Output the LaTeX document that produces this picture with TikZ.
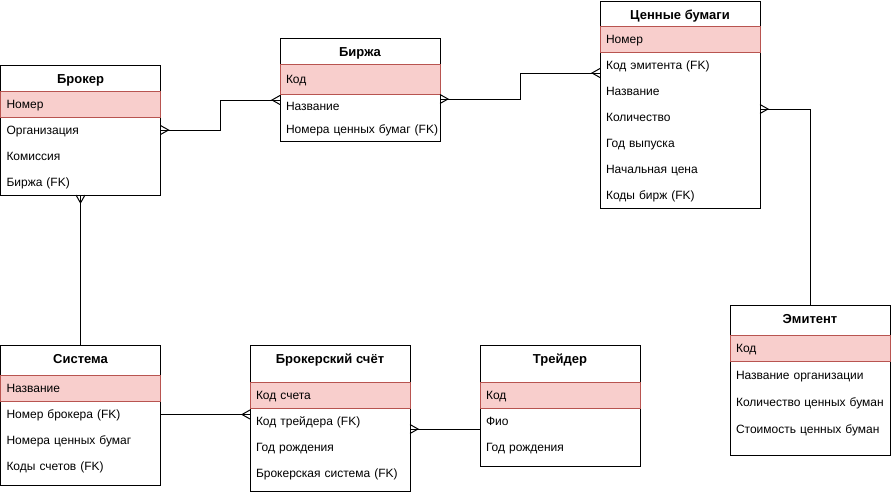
\documentclass[tikz,border=0pt]{standalone}
\usepackage{fontspec}
\setmainfont{Liberation Sans}
\usetikzlibrary{positioning,arrows.meta}

\definecolor{keyfill}{HTML}{F8CECC}
\definecolor{keyline}{HTML}{B85450}

% crow's foot end for the relations
\pgfdeclarearrow{
  name = Crow,
  parameters = {\the\pgfarrowlength,\the\pgfarrowwidth},
  setup code = {
    \pgfarrowssettipend{0pt}
    \pgfarrowssetlineend{0pt}
    \pgfarrowssetbackend{-\pgfarrowlength}
    \pgfarrowssavethe\pgfarrowlength
    \pgfarrowssavethe\pgfarrowwidth
  },
  drawing code = {
    \pgfpathmoveto{\pgfqpoint{0pt}{.5\pgfarrowwidth}}
    \pgfpathlineto{\pgfqpoint{-\pgfarrowlength}{0pt}}
    \pgfpathlineto{\pgfqpoint{0pt}{-.5\pgfarrowwidth}}
    \pgfusepathqstroke
  },
  defaults = {length = 8pt, width = 9pt}
}

\begin{document}
\begin{tikzpicture}[x=1pt, y=-1pt, node distance=0pt, line width=1pt,
    font=\fontsize{12}{14}\selectfont,
    every node/.style={outer sep=0pt},
    table/.style={draw, minimum width=160pt, anchor=north west, inner sep=0pt},
    head/.style={minimum width=160pt, minimum height=28pt, anchor=north, inner sep=0pt,
        text height=10pt, text depth=1.5pt, font=\fontsize{13}{15}\selectfont\bfseries},
    field/.style={minimum width=160pt, minimum height=26pt, text width=148pt,
        text height=10pt, text depth=1.5pt,
        inner sep=0pt, inner xsep=6pt, align=left, anchor=north},
    key/.style={field, draw=keyline, fill=keyfill, anchor=north west},
    rel/.style={draw=black, line width=1pt}]
    \useasboundingbox (0,0) rectangle (891,493);

    % Брокер
    \node (broker) [table, minimum height=130pt] at (0.5,65) {};
    \node (brokerT) [head] at (broker.north) {Брокер};
    \node (brokerK) [key] at (0.5,91) {Номер};
    \node (broker1) [field, below=of brokerK] {Организация};
    \node (broker2) [field, below=of broker1] {Комиссия};
    \node (broker3) [field, below=of broker2] {Биржа (FK)};

    % Биржа
    \node (exchange) [table, minimum height=103pt] at (280,38) {};
    \node (exchangeT) [head] at (exchange.north) {Биржа};
    \node (exchangeK) [key, minimum height=30pt] at (280,64) {Код};
    \node (exchange1) [field, minimum height=23.5pt, below=of exchangeK] {Название};
    \node (exchange2) [field, minimum height=23.5pt, below=of exchange1] {\mbox{Номера ценных бумаг (FK)}};

    % Ценные бумаги
    \node (securities) [table, minimum height=207pt] at (600,1) {};
    \node (securitiesT) [head] at (securities.north) {Ценные бумаги};
    \node (securitiesK) [key] at (600,26) {Номер};
    \node (securities1) [field, below=of securitiesK] {Код эмитента (FK)};
    \node (securities2) [field, below=of securities1] {Название};
    \node (securities3) [field, below=of securities2] {Количество};
    \node (securities4) [field, below=of securities3] {Год выпуска};
    \node (securities5) [field, below=of securities4] {Начальная цена};
    \node (securities6) [field, below=of securities5] {Коды бирж (FK)};

    % Эмитент
    \node (emitent) [table, minimum height=150pt] at (730,305) {};
    \node (emitentT) [head] at (emitent.north) {Эмитент};
    \node (emitentK) [key] at (730,335.5) {Код};
    \node (emitent1) [field, minimum height=27pt, below=of emitentK] {Название организации};
    \node (emitent2) [field, minimum height=27pt, below=of emitent1] {\mbox{Количество ценных буман}};
    \node (emitent3) [field, minimum height=27pt, below=of emitent2] {\mbox{Стоимость ценных буман}};

    % Система
    \node (system) [table, minimum height=140pt] at (0.5,345) {};
    \node (systemT) [head] at (system.north) {Система};
    \node (systemK) [key] at (0.5,375.5) {Название};
    \node (system1) [field, below=of systemK] {Номер брокера (FK)};
    \node (system2) [field, below=of system1] {Номера ценных бумаг};
    \node (system3) [field, below=of system2] {Коды счетов (FK)};

    % Брокерский счёт
    \node (account) [table, minimum height=146pt] at (250,345) {};
    \node (accountT) [head] at (account.north) {Брокерский счёт};
    \node (accountK) [key] at (250,382.5) {Код счета};
    \node (account1) [field, below=of accountK] {Код трейдера (FK)};
    \node (account2) [field, below=of account1] {Год рождения};
    \node (account3) [field, below=of account2] {\mbox{Брокерская система (FK)}};

    % Трейдер
    \node (trader) [table, minimum height=121pt] at (480,345) {};
    \node (traderT) [head] at (trader.north) {Трейдер};
    \node (traderK) [key] at (480,382.5) {Код};
    \node (trader1) [field, below=of traderK] {Фио};
    \node (trader2) [field, below=of trader1] {Год рождения};

    % relations
    \draw[rel, Crow-Crow] (broker1.east) -- ++(60,0) |- ([yshift=-10.5pt]exchange.west);
    \draw[rel, Crow-Crow] ([yshift=-9.5pt]exchange.east) -- ++(80,0) |- ([yshift=31.5pt]securities.west);
    \draw[rel, Crow-] ([yshift=-4.5pt]securities.east) -| (emitent.north);
    \draw[rel, Crow-] (broker.south) -- (system.north);
    \draw[rel, -Crow] (system1.east) -- (account.west |- system1.east);
    \draw[rel, Crow-] ([yshift=-11pt]account.east) -- ([yshift=-23.5pt]trader.west);
\end{tikzpicture}
\end{document}
